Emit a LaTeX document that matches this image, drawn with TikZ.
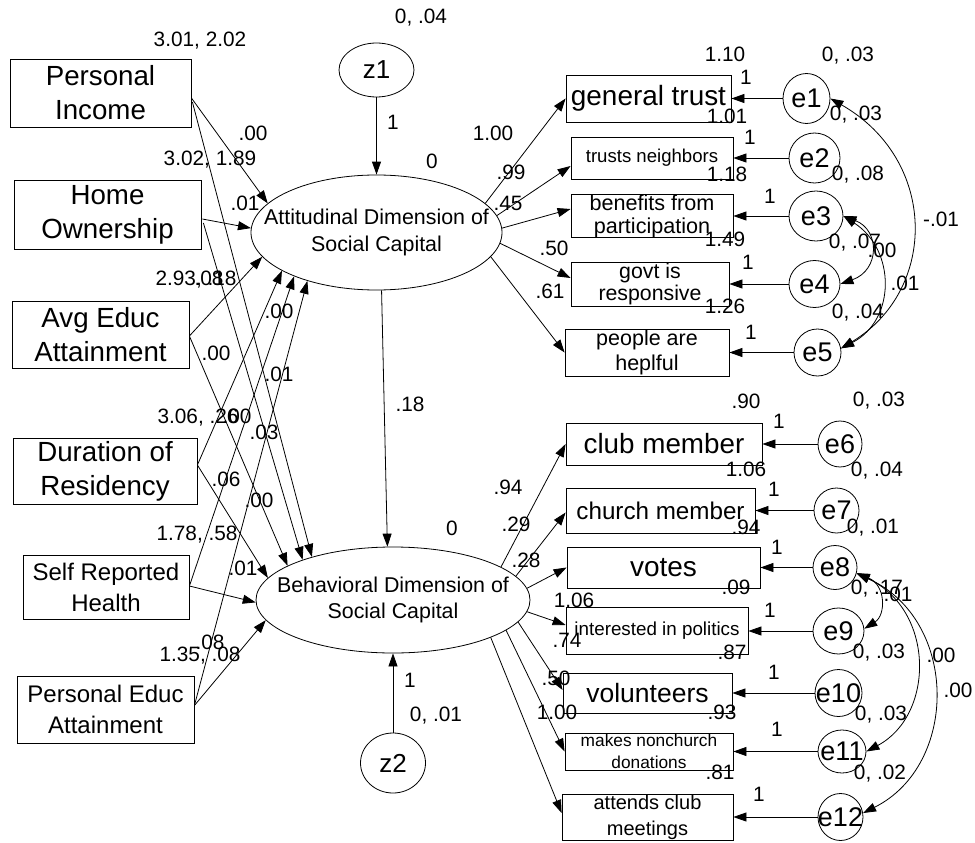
\documentclass[tikz,border=0pt]{standalone}
\usepackage{fontspec}
\setmainfont{Liberation Sans}
\usetikzlibrary{shapes.geometric,arrows.meta,calc}
\newcommand\myfs[2]{\fontsize{#1}{#2}\selectfont}
\begin{document}
\begin{tikzpicture}[x=1pt,y=-1pt,
  line width=0.8pt,
  arr/.style={-{Triangle[length=13pt,width=9pt]}},
  cov/.style={{Triangle[length=13pt,width=9pt]}-{Triangle[length=13pt,width=9pt]}},
  box/.style={draw, rectangle, inner sep=0pt, align=center},
  ell/.style={draw, ellipse, inner sep=0pt},
  lab/.style={inner sep=0pt, font=\myfs{20.8}{24}, text height=14.9pt, text depth=0pt},
]
\fill[white] (0,0) rectangle (975,843);
\useasboundingbox (0,0) rectangle (975,843);

% ---------- exogenous boxes ----------
\node[box, minimum width=181pt, minimum height=68pt, font=\myfs{27.7}{34}] (pi) at (100.5,93) {Personal\\Income};
\node[box, minimum width=187pt, minimum height=69pt, font=\myfs{27.7}{34}] (ho) at (107.5,214.5) {Home\\Ownership};
\node[box, minimum width=177pt, minimum height=67pt, font=\myfs{27.7}{34}] (ae) at (100.5,334.5) {Avg Educ\\Attainment};
\node[box, minimum width=184pt, minimum height=66pt, font=\myfs{27.7}{34}] (dr) at (105,471) {Duration of\\Residency};
\node[box, minimum width=166pt, minimum height=64pt, font=\myfs{24}{31}] (sh) at (106,587) {Self Reported\\Health};
\node[box, minimum width=177pt, minimum height=67pt, font=\myfs{24}{31}] (pe) at (105.5,709.5) {Personal Educ\\Attainment};

% ---------- latent variables ----------
\node[ell, minimum width=251pt, minimum height=115pt,
  label={[align=center,font=\myfs{21.4}{27}]center:Attitudinal Dimension of\\Social Capital}] (att) at (376.5,232.5) {};
\node[ell, minimum width=274pt, minimum height=106pt,
  label={[align=center,font=\myfs{21.4}{26}]center:Behavioral Dimension of\\Social Capital}] (beh) at (393,600) {};
\node[ell, minimum width=75pt, minimum height=54pt, label={[font=\myfs{26}{30}]center:z1}] (z1) at (376.5,70) {};
\node[ell, minimum width=65pt, minimum height=60pt, label={[font=\myfs{26}{30}]center:z2}] (z2) at (393,763) {};

% ---------- attitudinal indicators ----------
\node[box, minimum width=165pt, minimum height=47pt, font=\myfs{27.9}{30}] (gt) at (648.5,98.5) {general trust};
\node[box, minimum width=162pt, minimum height=42pt, font=\myfs{18.6}{22}] (tn) at (652,158) {trusts neighbors};
\node[box, minimum width=162pt, minimum height=42pt, font=\myfs{21.6}{23}] (bp) at (652,216) {benefits from\\participation};
\node[box, minimum width=158pt, minimum height=44pt, font=\myfs{21.3}{22.5}] (gv) at (650,284) {govt is\\responsive};
\node[box, minimum width=164pt, minimum height=47pt, font=\myfs{21.5}{25}] (pa) at (647,352.5) {people are\\heplful};

% ---------- behavioral indicators ----------
\node[box, minimum width=196pt, minimum height=42pt, font=\myfs{27.8}{30}] (cm) at (664,444) {club member};
\node[box, minimum width=189pt, minimum height=45pt, font=\myfs{24.2}{28}] (ch) at (660.5,510.5) {church member};
\node[box, minimum width=193pt, minimum height=41pt, font=\myfs{28}{30}] (vo) at (663.5,567.5) {votes};
\node[box, minimum width=182pt, minimum height=47pt, font=\myfs{18.8}{22}] (ip) at (657,631) {interested in politics};
\node[box, minimum width=169pt, minimum height=40pt, font=\myfs{26.5}{30}] (vl) at (647.5,693) {volunteers};
\node[box, minimum width=168pt, minimum height=37pt, font=\myfs{17.3}{22}] (md) at (649,751.5) {makes nonchurch\\donations};
\node[box, minimum width=171pt, minimum height=46pt, font=\myfs{20}{26}] (ac) at (647.5,817) {attends club\\meetings};

% ---------- error terms ----------
\tikzset{efont/.style={font=\myfs{27}{30}}}
\node[ell, minimum width=47pt, minimum height=50pt, label={[efont]center:e1}] (e1) at (806.5,98.5) {};
\node[ell, minimum width=51pt, minimum height=50pt, label={[efont]center:e2}] (e2) at (814.5,158) {};
\node[ell, minimum width=54pt, minimum height=50pt, label={[efont]center:e3}] (e3) at (816,216) {};
\node[ell, minimum width=51pt, minimum height=47pt, label={[efont]center:e4}] (e4) at (814.5,284) {};
\node[ell, minimum width=47pt, minimum height=47pt, label={[efont]center:e5}] (e5) at (817.5,352.5) {};
\node[ell, minimum width=44pt, minimum height=46pt, label={[efont]center:e6}] (e6) at (840,444) {};
\node[ell, minimum width=45pt, minimum height=45pt, label={[efont]center:e7}] (e7) at (836.5,510.5) {};
\node[ell, minimum width=44pt, minimum height=44pt, label={[efont]center:e8}] (e8) at (835,567.5) {};
\node[ell, minimum width=51pt, minimum height=46pt, label={[efont]center:e9}] (e9) at (838.5,631) {};
\node[ell, minimum width=47pt, minimum height=47pt, label={[efont]center:e10}] (e10) at (838.5,693) {};
\node[ell, minimum width=48pt, minimum height=43pt, label={[efont]center:e11}] (e11) at (842,751.5) {};
\node[ell, minimum width=45pt, minimum height=47pt, label={[efont]center:e12}] (e12) at (840.5,817) {};

% ---------- paths from exogenous variables ----------
\draw[arr] ($(pi.east)+(0,5)$) -- (att.165);
\draw[arr] ($(pi.east)+(1,9)$) -- (beh.152);
\draw[arr] ($(ho.east)+(1,4.5)$) -- (att.178);
\draw[arr] ($(ho.east)+(2,8.5)$) -- (beh.156);
\draw[arr] ($(ae.east)+(0,1.5)$) -- (att.192);
\draw[arr] ($(ae.east)+(0,1.5)$) -- (beh.162);
\draw[arr] ($(dr.east)+(0,-6)$) -- (att.202);
\draw[arr] ($(dr.east)+(0,-6)$) -- (beh.170);
\draw[arr] ($(sh.east)+(0,-1)$) -- (att.208);
\draw[arr] ($(sh.east)+(0,-1)$) -- (beh.181);
\draw[arr] ($(pe.east)+(0,-4)$) -- (att.215);
\draw[arr] ($(pe.east)+(0,-4)$) -- (beh.189);

% ---------- structural paths ----------
\draw[arr] (z1) -- (att);
\draw[arr] (z2) -- (beh);
\draw[arr] (att.275) -- (beh.96);

% ---------- loadings ----------
\draw[arr] (att.15) -- (gt.west);
\draw[arr] (att.8) -- ($(tn.west)+(0,8)$);
\draw[arr] (att.2) -- ($(bp.west)+(0,-7)$);
\draw[arr] (att.355) -- ($(gv.west)+(0,-6)$);
\draw[arr] (att.348) -- (pa.west);
\draw[arr] (beh.17) -- (cm.west);
\draw[arr] (beh.11) -- ($(ch.west)+(0,2)$);
\draw[arr] (beh.5) -- (vo.west);
\draw[arr] (beh.355) -- ($(ip.west)+(0,-6)$);
\draw[arr] (beh.350) -- ($(vl.west)+(0,-3)$);
\draw[arr] (beh.345) -- (md.west);
\draw[arr] (beh.339) -- ($(ac.west)+(0,-4)$);

% ---------- error paths ----------
\draw[arr] (e1) -- (gt);
\draw[arr] (e2) -- (tn);
\draw[arr] (e3) -- (bp);
\draw[arr] (e4) -- (gv);
\draw[arr] (e5) -- (pa);
\draw[arr] (e6) -- (cm);
\draw[arr] (e7) -- (ch);
\draw[arr] (e8) -- (vo);
\draw[arr] (e9) -- (ip);
\draw[arr] (e10) -- (vl);
\draw[arr] (e11) -- (md);
\draw[arr] (e12) -- (ac);

% ---------- covariances ----------
\draw[cov] (e1.east) .. controls (938,160) and (938,290) .. (e5.10);
\draw[cov] (e3.east) .. controls (880,230) and (880,270) .. (e4.east);
\draw[cov] (e3.east) .. controls (896,250) and (896,320) .. (e5.10);
\draw[cov] (e8.345) .. controls (886,585) and (886,615) .. (e9.5);
\draw[cov] (e8.345) .. controls (935,610) and (935,715) .. (e11.east);
\draw[cov] (e8.345) .. controls (959,620) and (959,765) .. (e12.10);

% ---------- labels: left ----------
\node[lab] (l1) at (200,39) {3.01, 2.02};
\node[lab] (l2) at (210,158) {3.02, 1.89};
\node[lab] (l3) at (196,278) {2.93, .18};
\node[lab] (l4) at (209,278) {.08};
\node[lab] (l5) at (198,416) {3.06, .26};
\node[lab] (l6) at (237,416) {.00};
\node[lab] (l7) at (197,533) {1.78, .58};
\node[lab] (l8) at (200,654) {1.35, .08};
\node[lab] (l9) at (210,642) {.08};
\node[lab] (l10) at (253,133) {.00};
\node[lab] (l11) at (245,203) {.01};
\node[lab] (l12) at (279,311) {.00};
\node[lab] (l13) at (216,353) {.00};
\node[lab] (l14) at (279,374) {.01};
\node[lab] (l15) at (264,432) {.03};
\node[lab] (l16) at (226,479) {.06};
\node[lab] (l17) at (259,500) {.00};
\node[lab] (l18) at (243,568) {.01};

% ---------- labels: latent ----------
\node[lab] (l19) at (421,16) {0, .04};
\node[lab] (l20) at (393,122) {1};
\node[lab] (l21) at (432,161) {0};
\node[lab] (l22) at (410,404) {.18};
\node[lab] (l23) at (452,528) {0};
\node[lab] (l24) at (410,680) {1};
\node[lab] (l25) at (436,714) {0, .01};

% ---------- labels: attitudinal loadings ----------
\node[lab] (l26) at (493,133) {1.00};
\node[lab] (l27) at (511,172) {.99};
\node[lab] (l28) at (508,203) {.45};
\node[lab] (l29) at (554,248) {.50};
\node[lab] (l30) at (550,291) {.61};
\node[lab] (l31) at (725,54) {1.10};
\node[lab] (l32) at (727,116) {1.01};
\node[lab] (l33) at (727,174) {1.18};
\node[lab] (l34) at (725,239) {1.49};
\node[lab] (l35) at (725,306) {1.26};
\node[lab] (l36) at (746,77) {1};
\node[lab] (l37) at (750,137) {1};
\node[lab] (l38) at (770,196) {1};
\node[lab] (l39) at (748,262) {1};
\node[lab] (l40) at (751,332) {1};
\node[lab] (l41) at (848,54) {0, .03};
\node[lab] (l42) at (856,113) {0, .03};
\node[lab] (l43) at (858,173) {0, .08};
\node[lab] (l44) at (855,241) {0, .07};
\node[lab] (l45) at (858,311) {0, .04};
\node[lab] (l46) at (882,250) {.00};
\node[lab] (l47) at (905,283) {.01};
\node[lab] (l48) at (941,219) {-.01};

% ---------- labels: behavioral loadings ----------
\node[lab] (l49) at (508,487) {.94};
\node[lab] (l50) at (516,524) {.29};
\node[lab] (l51) at (526,560) {.28};
\node[lab] (l52) at (574,600) {1.06};
\node[lab] (l53) at (567,640) {.74};
\node[lab] (l54) at (556,678) {.50};
\node[lab] (l55) at (557,712) {1.00};
\node[lab] (l56) at (746,401) {.90};
\node[lab] (l57) at (746,469) {1.06};
\node[lab] (l58) at (746,527) {.94};
\node[lab] (l59) at (736,587) {.09};
\node[lab] (l60) at (732,652) {.87};
\node[lab] (l61) at (722,712) {.93};
\node[lab] (l62) at (720,772) {.81};
\node[lab] (l63) at (779,421) {1};
\node[lab] (l64) at (774,489) {1};
\node[lab] (l65) at (777,547) {1};
\node[lab] (l66) at (770,610) {1};
\node[lab] (l67) at (774,672) {1};
\node[lab] (l68) at (777,729) {1};
\node[lab] (l69) at (759,794) {1};
\node[lab] (l70) at (879,399) {0, .03};
\node[lab] (l71) at (877,469) {0, .04};
\node[lab] (l72) at (873,526) {0, .01};
\node[lab] (l73) at (877,587) {0, .17};
\node[lab] (l74) at (898,594) {.01};
\node[lab] (l75) at (879,651) {0, .03};
\node[lab] (l76) at (881,713) {0, .03};
\node[lab] (l77) at (880,772) {0, .02};
\node[lab] (l78) at (941,655) {.00};
\node[lab] (l79) at (958,690) {.00};
\end{tikzpicture}
\end{document}
